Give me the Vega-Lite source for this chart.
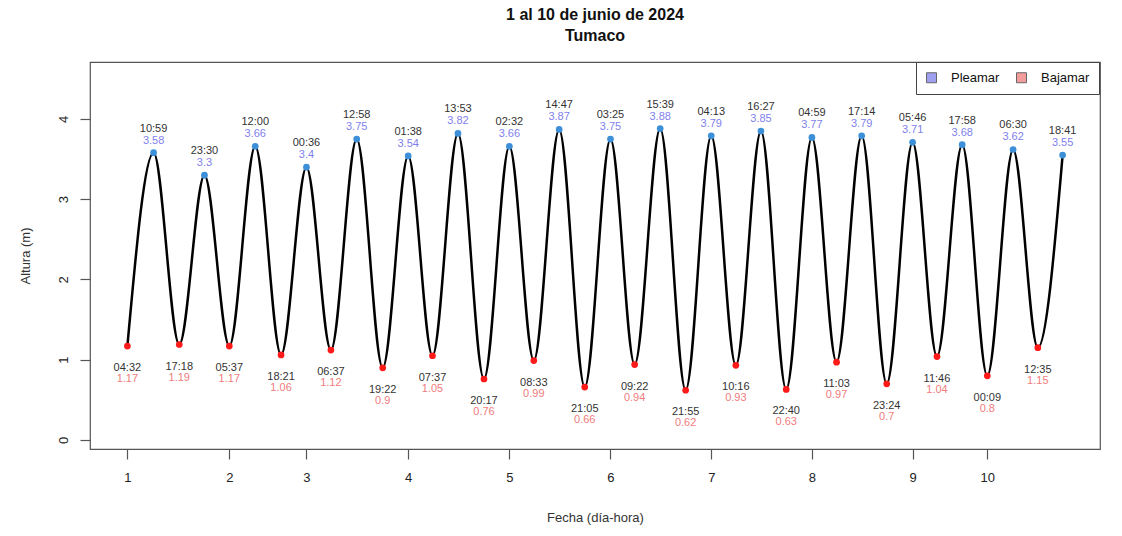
{
  "$schema": "https://vega.github.io/schema/vega-lite/v6.json",
  "autosize": "none",
  "width": 1010,
  "height": 387,
  "padding": {"left": 90, "top": 62, "right": 22, "bottom": 87},
  "background": "white",
  "title": {
    "text": ["1 al 10 de junio de 2024", "Tumaco"],
    "fontSize": 16,
    "fontWeight": "bold",
    "font": "Liberation Sans",
    "color": "#111111",
    "anchor": "middle",
    "offset": 18,
    "lineHeight": 21
  },
  "config": {
    "font": "Liberation Sans",
    "view": {"stroke": "#555555", "strokeWidth": 1.2},
    "axis": {"grid": false}
  },
  "data": {
    "values": [
      {"fecha": "2024-06-01 04:32", "hora": "04:32", "altura": 1.17, "tipo": "Bajamar"},
      {"fecha": "2024-06-01 10:59", "hora": "10:59", "altura": 3.58, "tipo": "Pleamar"},
      {"fecha": "2024-06-01 17:18", "hora": "17:18", "altura": 1.19, "tipo": "Bajamar"},
      {"fecha": "2024-06-01 23:30", "hora": "23:30", "altura": 3.3, "tipo": "Pleamar"},
      {"fecha": "2024-06-02 05:37", "hora": "05:37", "altura": 1.17, "tipo": "Bajamar"},
      {"fecha": "2024-06-02 12:00", "hora": "12:00", "altura": 3.66, "tipo": "Pleamar"},
      {"fecha": "2024-06-02 18:21", "hora": "18:21", "altura": 1.06, "tipo": "Bajamar"},
      {"fecha": "2024-06-03 00:36", "hora": "00:36", "altura": 3.4, "tipo": "Pleamar"},
      {"fecha": "2024-06-03 06:37", "hora": "06:37", "altura": 1.12, "tipo": "Bajamar"},
      {"fecha": "2024-06-03 12:58", "hora": "12:58", "altura": 3.75, "tipo": "Pleamar"},
      {"fecha": "2024-06-03 19:22", "hora": "19:22", "altura": 0.9, "tipo": "Bajamar"},
      {"fecha": "2024-06-04 01:38", "hora": "01:38", "altura": 3.54, "tipo": "Pleamar"},
      {"fecha": "2024-06-04 07:37", "hora": "07:37", "altura": 1.05, "tipo": "Bajamar"},
      {"fecha": "2024-06-04 13:53", "hora": "13:53", "altura": 3.82, "tipo": "Pleamar"},
      {"fecha": "2024-06-04 20:17", "hora": "20:17", "altura": 0.76, "tipo": "Bajamar"},
      {"fecha": "2024-06-05 02:32", "hora": "02:32", "altura": 3.66, "tipo": "Pleamar"},
      {"fecha": "2024-06-05 08:33", "hora": "08:33", "altura": 0.99, "tipo": "Bajamar"},
      {"fecha": "2024-06-05 14:47", "hora": "14:47", "altura": 3.87, "tipo": "Pleamar"},
      {"fecha": "2024-06-05 21:05", "hora": "21:05", "altura": 0.66, "tipo": "Bajamar"},
      {"fecha": "2024-06-06 03:25", "hora": "03:25", "altura": 3.75, "tipo": "Pleamar"},
      {"fecha": "2024-06-06 09:22", "hora": "09:22", "altura": 0.94, "tipo": "Bajamar"},
      {"fecha": "2024-06-06 15:39", "hora": "15:39", "altura": 3.88, "tipo": "Pleamar"},
      {"fecha": "2024-06-06 21:55", "hora": "21:55", "altura": 0.62, "tipo": "Bajamar"},
      {"fecha": "2024-06-07 04:13", "hora": "04:13", "altura": 3.79, "tipo": "Pleamar"},
      {"fecha": "2024-06-07 10:16", "hora": "10:16", "altura": 0.93, "tipo": "Bajamar"},
      {"fecha": "2024-06-07 16:27", "hora": "16:27", "altura": 3.85, "tipo": "Pleamar"},
      {"fecha": "2024-06-07 22:40", "hora": "22:40", "altura": 0.63, "tipo": "Bajamar"},
      {"fecha": "2024-06-08 04:59", "hora": "04:59", "altura": 3.77, "tipo": "Pleamar"},
      {"fecha": "2024-06-08 11:03", "hora": "11:03", "altura": 0.97, "tipo": "Bajamar"},
      {"fecha": "2024-06-08 17:14", "hora": "17:14", "altura": 3.79, "tipo": "Pleamar"},
      {"fecha": "2024-06-08 23:24", "hora": "23:24", "altura": 0.7, "tipo": "Bajamar"},
      {"fecha": "2024-06-09 05:46", "hora": "05:46", "altura": 3.71, "tipo": "Pleamar"},
      {"fecha": "2024-06-09 11:46", "hora": "11:46", "altura": 1.04, "tipo": "Bajamar"},
      {"fecha": "2024-06-09 17:58", "hora": "17:58", "altura": 3.68, "tipo": "Pleamar"},
      {"fecha": "2024-06-10 00:09", "hora": "00:09", "altura": 0.8, "tipo": "Bajamar"},
      {"fecha": "2024-06-10 06:30", "hora": "06:30", "altura": 3.62, "tipo": "Pleamar"},
      {"fecha": "2024-06-10 12:35", "hora": "12:35", "altura": 1.15, "tipo": "Bajamar"},
      {"fecha": "2024-06-10 18:41", "hora": "18:41", "altura": 3.55, "tipo": "Pleamar"}
    ],
    "format": {"parse": {"fecha": "date:'%Y-%m-%d %H:%M'"}}
  },
  "encoding": {
    "x": {
      "field": "fecha",
      "type": "temporal",
      "scale": {
        "domain": [
          {"year": 2024, "month": 5, "date": 31, "hours": 19, "minutes": 20},
          {"year": 2024, "month": 6, "date": 11, "hours": 3, "minutes": 53}
        ]
      },
      "axis": {
        "title": "Fecha (día-hora)",
        "values": [
          {"year": 2024, "month": 6, "date": 1, "hours": 4, "minutes": 32},
          {"year": 2024, "month": 6, "date": 2, "hours": 5, "minutes": 37},
          {"year": 2024, "month": 6, "date": 3, "hours": 0, "minutes": 36},
          {"year": 2024, "month": 6, "date": 4, "hours": 1, "minutes": 38},
          {"year": 2024, "month": 6, "date": 5, "hours": 2, "minutes": 32},
          {"year": 2024, "month": 6, "date": 6, "hours": 3, "minutes": 25},
          {"year": 2024, "month": 6, "date": 7, "hours": 4, "minutes": 13},
          {"year": 2024, "month": 6, "date": 8, "hours": 4, "minutes": 59},
          {"year": 2024, "month": 6, "date": 9, "hours": 5, "minutes": 46},
          {"year": 2024, "month": 6, "date": 10, "hours": 0, "minutes": 9}
        ],
        "labelExpr": "'' + date(datum.value)",
        "domain": false,
        "tickSize": 10,
        "tickColor": "#555555",
        "tickWidth": 1.2,
        "labelFontSize": 13,
        "labelColor": "#222222",
        "labelPadding": 12,
        "labelFlush": false,
        "labelOverlap": false,
        "titleFontSize": 13,
        "titleFontWeight": "normal",
        "titleColor": "#333333",
        "titlePadding": 27
      }
    },
    "y": {
      "field": "altura",
      "type": "quantitative",
      "scale": {"domain": [-0.112, 4.71], "nice": false, "zero": false},
      "axis": {
        "title": "Altura (m)",
        "values": [0, 1, 2, 3, 4],
        "domain": false,
        "tickSize": 10,
        "tickColor": "#555555",
        "tickWidth": 1.2,
        "labelAngle": -90,
        "labelAlign": "center",
        "labelBaseline": "bottom",
        "labelFontSize": 13,
        "labelColor": "#222222",
        "labelPadding": 10,
        "titleFontSize": 13,
        "titleFontWeight": "normal",
        "titleColor": "#333333",
        "titlePadding": 25
      }
    }
  },
  "layer": [
    {
      "mark": {"type": "line", "interpolate": "monotone", "color": "#000000", "strokeWidth": 2.5},
      "encoding": {}
    },
    {
      "mark": {"type": "circle", "opacity": 1, "size": 45},
      "encoding": {
        "fill": {
          "condition": {"test": "datum.tipo == 'Pleamar'", "value": "#3d8fd8"},
          "value": "#ff1a1a"
        }
      }
    },
    {
      "transform": [{"filter": "datum.tipo == 'Pleamar'"}],
      "mark": {"type": "text", "dy": -24, "fontSize": 11, "color": "#333333"},
      "encoding": {"text": {"field": "hora", "type": "nominal"}}
    },
    {
      "transform": [{"filter": "datum.tipo == 'Bajamar'"}],
      "mark": {"type": "text", "dy": 22, "fontSize": 11, "color": "#333333"},
      "encoding": {"text": {"field": "hora", "type": "nominal"}}
    },
    {
      "transform": [{"filter": "datum.tipo == 'Pleamar'"}],
      "mark": {"type": "text", "dy": -12, "fontSize": 11},
      "encoding": {
        "text": {"field": "altura", "type": "quantitative"},
        "color": {
          "field": "tipo",
          "type": "nominal",
          "scale": {"domain": ["Pleamar", "Bajamar"], "range": ["#7f7fec", "#f07c7c"]},
          "legend": {
            "title": null,
            "orient": "none",
            "legendX": 826,
            "legendY": 0,
            "direction": "horizontal",
            "fillColor": "white",
            "strokeColor": "#444444",
            "padding": 9,
            "labelFontSize": 13,
            "labelColor": "#111111",
            "symbolType": "square",
            "symbolSize": 100,
            "symbolStrokeColor": "#333333",
            "symbolStrokeWidth": 1,
            "symbolOpacity": 0.75,
            "labelOffset": 13,
            "columnPadding": 14
          }
        }
      }
    },
    {
      "transform": [{"filter": "datum.tipo == 'Bajamar'"}],
      "mark": {"type": "text", "dy": 33, "fontSize": 11},
      "encoding": {
        "text": {"field": "altura", "type": "quantitative"},
        "color": {"field": "tipo", "type": "nominal"}
      }
    }
  ]
}
